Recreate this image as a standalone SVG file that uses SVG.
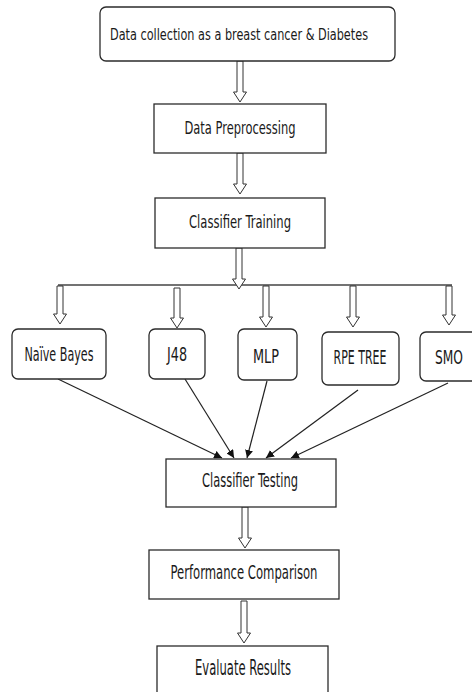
<svg xmlns="http://www.w3.org/2000/svg" width="472" height="692" viewBox="0 0 472 692">
<style>
.box{fill:#fff;stroke:#2b2b2b;stroke-width:1.3}
.t{font-family:"Liberation Sans Narrow","DejaVu Sans Condensed","Liberation Sans",sans-serif;fill:#1a1a1a;text-anchor:middle}
.ha{fill:#fff;stroke:#333;stroke-width:1}
.ln{fill:none;stroke:#222;stroke-width:1.2;marker-end:url(#ah)}
.bus{fill:none;stroke:#444;stroke-width:1.5}
</style>
<defs>
<marker id="ah" viewBox="0 0 10 10" refX="10" refY="5" markerWidth="8" markerHeight="8" markerUnits="userSpaceOnUse" orient="auto">
<path d="M0,0 L10,5 L0,10 Z" fill="#111"/>
</marker>
</defs>
<g id="connectors">
<path class="bus" d="M58,285 H452"/>
<path class="ha" d="M237,61 V92 H233.5 L240,102 L246.5,92 H243 V61 Z"/>
<path class="ha" d="M237,153 V184 H233.5 L240,194 L246.5,184 H243 V153 Z"/>
<path class="ha" d="M236,248 V279 H232.5 L239,289 L245.5,279 H242 V248 Z"/>
<path class="ha" d="M57,286 V314 H53.5 L60,324 L66.5,314 H63 V286 Z"/>
<path class="ha" d="M174,288 V318 H170.5 L177,328 L183.5,318 H180 V288 Z"/>
<path class="ha" d="M263,286 V317 H259.5 L266,327 L272.5,317 H269 V286 Z"/>
<path class="ha" d="M350,286 V317 H346.5 L353,327 L359.5,317 H356 V286 Z"/>
<path class="ha" d="M446,286 V315 H442.5 L449,325 L455.5,315 H452 V286 Z"/>
<path class="ha" d="M242,507 V538 H238.5 L245,548 L251.5,538 H248 V507 Z"/>
<path class="ha" d="M241,601 V633 H237.5 L244,643 L250.5,633 H247 V601 Z"/>
<path class="ln" d="M58,379 L222,458"/>
<path class="ln" d="M185,379 L234,458"/>
<path class="ln" d="M267,381 L247,458"/>
<path class="ln" d="M358,390 L266,458"/>
<path class="ln" d="M448,383 L291,458"/>
</g>
<g id="data-collection">
<rect class="box" x="100" y="7" width="295" height="54" rx="6"/>
<text class="t" x="239" y="40" font-size="16.5" textLength="258" lengthAdjust="spacingAndGlyphs">Data collection as a breast cancer &amp; Diabetes</text>
</g>
<g id="data-preprocessing">
<rect class="box" x="154" y="104" width="172" height="49"/>
<text class="t" x="240" y="134" font-size="17" textLength="111" lengthAdjust="spacingAndGlyphs">Data Preprocessing</text>
</g>
<g id="classifier-training">
<rect class="box" x="155" y="198" width="170" height="50"/>
<text class="t" x="240" y="228" font-size="18" textLength="102" lengthAdjust="spacingAndGlyphs">Classifier Training</text>
</g>
<g id="naive-bayes">
<rect class="box" x="12" y="329" width="94" height="50" rx="6"/>
<text class="t" x="59" y="361" font-size="19.5" textLength="69" lengthAdjust="spacingAndGlyphs">Naïve Bayes</text>
</g>
<g id="j48">
<rect class="box" x="149" y="329" width="56" height="50" rx="6"/>
<text class="t" x="177" y="361" font-size="19.5" textLength="20" lengthAdjust="spacingAndGlyphs">J48</text>
</g>
<g id="mlp">
<rect class="box" x="238" y="329" width="59" height="51" rx="6"/>
<text class="t" x="266" y="363" font-size="19.5" textLength="26" lengthAdjust="spacingAndGlyphs">MLP</text>
</g>
<g id="rpe-tree">
<rect class="box" x="322" y="332" width="77" height="53" rx="6"/>
<text class="t" x="360" y="364" font-size="19.5" textLength="53" lengthAdjust="spacingAndGlyphs">RPE TREE</text>
</g>
<g id="smo">
<rect class="box" x="420" y="332" width="62" height="49" rx="6"/>
<text class="t" x="449" y="364" font-size="19.5" textLength="28" lengthAdjust="spacingAndGlyphs">SMO</text>
</g>
<g id="classifier-testing">
<rect class="box" x="166" y="459" width="170" height="48"/>
<text class="t" x="250" y="487" font-size="19.5" textLength="96" lengthAdjust="spacingAndGlyphs">Classifier Testing</text>
</g>
<g id="performance-comparison">
<rect class="box" x="149" y="550" width="190" height="49"/>
<text class="t" x="244" y="579" font-size="19.5" textLength="147" lengthAdjust="spacingAndGlyphs">Performance Comparison</text>
</g>
<g id="evaluate-results">
<rect class="box" x="157" y="646" width="171" height="56"/>
<text class="t" x="243" y="675" font-size="20.5" textLength="96" lengthAdjust="spacingAndGlyphs">Evaluate Results</text>
</g>
</svg>
